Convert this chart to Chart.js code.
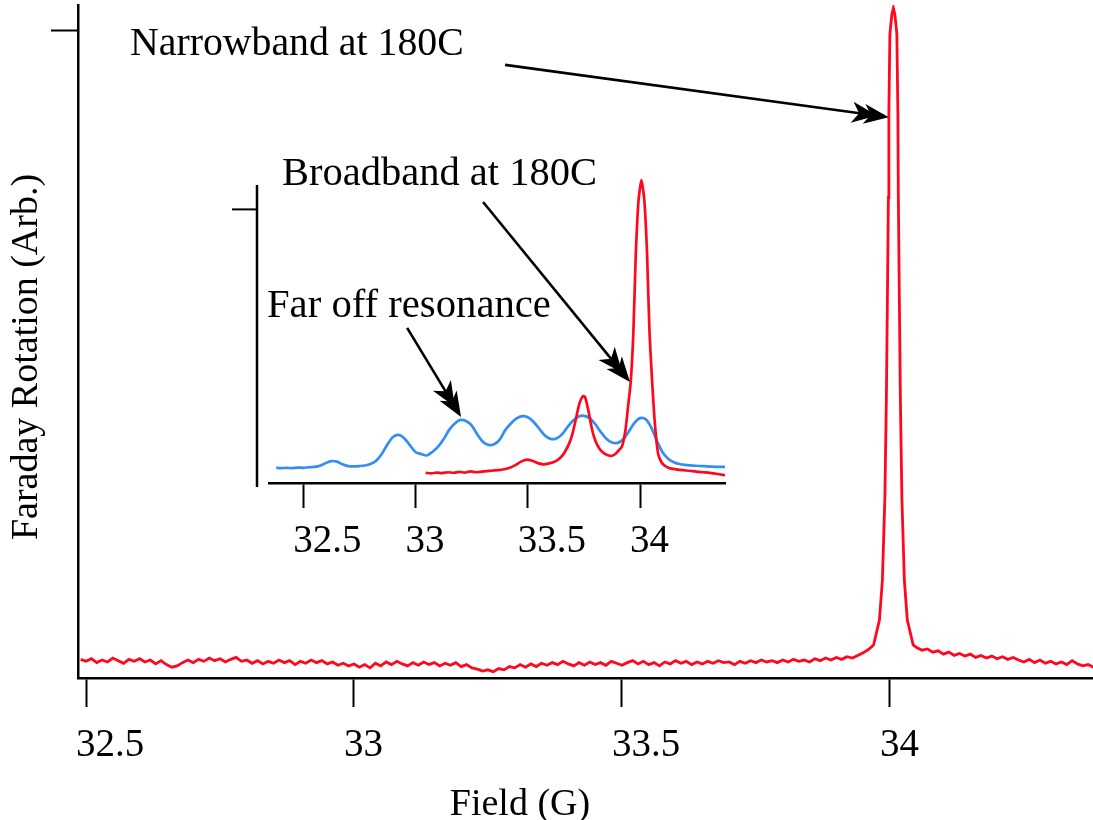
<!DOCTYPE html>
<html>
<head>
<meta charset="utf-8">
<script src="https://cdn.jsdelivr.net/npm/chart.js"></script>
<style>
  html, body { margin: 0; padding: 0; background: #fff; }
  #wrap { position: relative; width: 1093px; height: 820px; }
  #wrap canvas { position: absolute; left: 0; top: 0; }
</style>
</head>
<body>
<div id="wrap">
  <canvas id="main" width="1093" height="820"></canvas>
  <canvas id="inset" width="1093" height="820"></canvas>
</div>
<script>
// main trace: narrowband at 180C (field in G, rotation in % of peak)
const mainField = [
  32.49,32.50,32.51,32.52,32.53,32.54,32.55,32.56,32.57,32.58,
  32.59,32.60,32.61,32.62,32.63,32.64,32.65,32.66,32.67,32.68,
  32.69,32.70,32.71,32.72,32.73,32.74,32.75,32.76,32.77,32.78,
  32.79,32.80,32.81,32.82,32.83,32.84,32.85,32.86,32.87,32.88,
  32.89,32.90,32.91,32.92,32.93,32.94,32.95,32.96,32.97,32.98,
  32.99,33.00,33.01,33.02,33.03,33.04,33.05,33.06,33.07,33.08,
  33.09,33.10,33.11,33.12,33.13,33.14,33.15,33.16,33.17,33.18,
  33.19,33.20,33.21,33.22,33.23,33.24,33.25,33.26,33.27,33.28,
  33.29,33.30,33.31,33.32,33.33,33.34,33.35,33.36,33.37,33.38,
  33.39,33.40,33.41,33.42,33.43,33.44,33.45,33.46,33.47,33.48,
  33.49,33.50,33.51,33.52,33.53,33.54,33.55,33.56,33.57,33.58,
  33.59,33.60,33.61,33.62,33.63,33.64,33.65,33.66,33.67,33.68,
  33.69,33.70,33.71,33.72,33.73,33.74,33.75,33.76,33.77,33.78,
  33.79,33.80,33.81,33.82,33.83,33.84,33.85,33.86,33.87,33.88,
  33.89,33.90,33.91,33.92,33.93,33.94,33.95,33.96,
  33.9695,33.9805,33.986,33.9906,33.9934,33.9953,33.9972,33.9981,34.0000,34.0037,34.0065,
  34.0093,34.0130,34.0149,34.0158,34.0177,34.0196,34.0224,34.0270,34.0325,34.0435,
  34.05,34.06,34.07,34.08,34.09,34.10,34.11,34.12,34.13,34.14,
  34.15,34.16,34.17,34.18,34.19,34.20,34.21,34.22,34.23,34.24,
  34.25,34.26,34.27,34.28,34.29,34.30,34.31,34.32,34.33,34.34,
  34.35,34.36,34.37,34.38
];
const mainRotation = [
  0.4,0.1,0.5,-0.1,0.3,0.0,0.6,0.2,-0.2,0.4,
  0.1,0.5,0.0,0.3,-0.3,0.2,-0.4,-0.8,-0.6,-0.1,
  0.3,-0.1,0.4,0.1,0.6,0.2,0.5,0.0,0.4,0.7,
  0.1,0.3,-0.2,0.2,-0.3,0.1,-0.2,0.3,-0.1,0.2,
  -0.4,0.1,-0.2,0.3,-0.1,0.2,-0.3,0.0,-0.5,-0.2,
  -0.6,-0.3,-0.8,-0.4,-0.9,-0.2,-0.6,0.0,-0.4,0.1,
  -0.3,-0.6,-0.1,-0.5,0.0,-0.4,-0.1,-0.6,-0.2,-0.5,
  -0.1,-0.7,-0.4,-0.9,-1.1,-1.4,-1.2,-1.5,-1.0,-1.2,
  -0.7,-0.9,-0.4,-0.8,-0.3,-0.7,-0.2,-0.5,-0.1,-0.4,
  0.1,-0.3,-0.6,-0.1,-0.5,0.0,-0.4,-0.1,-0.5,0.1,
  -0.2,-0.5,-0.1,0.2,-0.3,0.1,-0.4,-0.1,-0.6,0.0,
  -0.3,0.2,-0.2,0.1,-0.4,0.0,-0.3,0.1,-0.2,0.2,
  -0.1,0.0,-0.4,0.1,-0.2,0.2,-0.1,0.3,0.0,0.2,
  -0.1,0.3,0.0,0.4,0.1,0.3,0.0,0.5,0.2,0.6,
  0.3,0.7,0.4,0.8,0.6,1.0,1.4,1.9,
  2.6,6.4,12.5,25,40,55,71,84,96,99,100,
  99,96,84,71,55,40,25,12.5,6.4,2.6,
  2.2,1.8,2.0,1.5,1.7,1.2,1.5,1.0,1.3,0.9,
  1.2,0.7,1.0,0.6,0.9,0.5,0.8,0.4,0.7,0.3,
  0.0,0.4,-0.1,0.3,-0.2,0.1,-0.3,0.0,-0.4,0.2,
  -0.3,-0.6,-0.4,-0.8
];

// inset: far off resonance (blue) and broadband at 180C (red)
const blueField = [
  32.38,32.40,32.425,32.45,32.475,32.50,32.525,32.55,32.575,32.60,
  32.625,32.65,32.675,32.70,32.725,32.75,32.775,32.80,32.825,32.85,
  32.875,32.90,32.925,32.95,32.975,33.00,33.025,33.05,33.075,33.10,
  33.125,33.15,33.175,33.20,33.225,33.25,33.275,33.30,33.325,33.35,
  33.375,33.40,33.425,33.45,33.475,33.50,33.525,33.55,33.575,33.60,
  33.625,33.65,33.675,33.70,33.725,33.75,33.775,33.80,33.825,33.85,
  33.875,33.90,33.925,33.95,33.975,34.00,34.025,34.05,34.075,34.10,
  34.125,34.15,34.175,34.20,34.25,34.30,34.35,34.378
];
const blueRotation = [
  0.021,0.020,0.021,0.020,0.022,0.021,0.023,0.024,0.028,0.037,
  0.044,0.042,0.033,0.027,0.026,0.027,0.029,0.034,0.045,0.068,
  0.100,0.126,0.133,0.122,0.098,0.075,0.068,0.063,0.075,0.092,
  0.118,0.150,0.172,0.184,0.180,0.165,0.135,0.110,0.099,0.101,
  0.117,0.150,0.172,0.189,0.197,0.193,0.178,0.155,0.132,0.120,
  0.120,0.133,0.158,0.180,0.195,0.198,0.190,0.170,0.143,0.120,
  0.107,0.106,0.118,0.145,0.174,0.190,0.186,0.158,0.112,0.074,
  0.052,0.040,0.034,0.031,0.028,0.026,0.024,0.024
];
const redField = [
  33.045,33.07,33.095,33.12,33.145,33.17,33.195,33.22,33.245,33.27,
  33.295,33.32,33.345,33.37,33.395,33.42,33.445,33.47,33.495,33.52,
  33.545,33.57,33.595,33.62,33.645,33.665,33.685,33.70,33.715,33.73,
  33.745,33.755,33.77,33.785,33.80,33.82,33.84,33.86,33.875,33.89,
  33.905,33.92,33.935,33.945,33.958,33.970,33.981,33.993,34.006,34.019,
  34.031,34.042,34.054,34.066,34.080,34.095,34.11,34.13,34.16,34.19,
  34.22,34.25,34.28,34.31,34.34,34.378
];
const redRotation = [
  0.004,0.002,0.005,0.003,0.006,0.004,0.007,0.005,0.009,0.006,
  0.008,0.010,0.012,0.013,0.016,0.021,0.030,0.042,0.049,0.045,
  0.037,0.033,0.036,0.042,0.055,0.075,0.105,0.140,0.190,0.240,
  0.265,0.262,0.215,0.155,0.115,0.085,0.070,0.063,0.062,0.068,
  0.080,0.095,0.150,0.220,0.310,0.480,0.750,0.930,1.000,0.930,
  0.750,0.480,0.310,0.170,0.070,0.040,0.028,0.020,0.016,0.013,
  0.011,0.008,0.006,0.004,0.001,-0.004
];

const mainXTicks = [32.5, 33, 33.5, 34];
const mainYTicks = [96.6];
const insetXTicks = [32.5, 33, 33.5, 34];
const insetYTicks = [0.90];

const xTitle = 'Field (G)';
const yTitle = 'Faraday Rotation (Arb.)';
// text + arrow notes, in data units of their chart
const mainNotes = [
  { text: 'Narrowband at 180C', size: 39.8, at: [32.582, 92.8], tail: [33.282, 91.3], tip: [33.998, 83.3] }
];
const insetNotes = [
  { text: 'Broadband at 180C', size: 40.5, at: [32.406, 0.983], tail: [33.301, 0.925], tip: [33.955, 0.313] },
  { text: 'Far off resonance', size: 40.7, at: [32.339, 0.534], tail: [32.963, 0.497], tip: [33.203, 0.194] }
];

const FONT = '"Liberation Serif", "Times New Roman", serif';
const RED = 'rgb(255, 8, 30)';
const BLUE = 'rgb(52, 142, 240)';

function pts(xs, ys) {
  return xs.map(function (v, i) { return { x: v, y: ys[i] }; });
}

function drawArrow(ctx, x1, y1, x2, y2) {
  let ang = Math.atan2(y2 - y1, x2 - x1);
  ctx.save();
  ctx.strokeStyle = '#000';
  ctx.fillStyle = '#000';
  ctx.lineWidth = 2.6;
  ctx.beginPath();
  ctx.moveTo(x1, y1);
  ctx.lineTo(x2 - Math.cos(ang) * 22, y2 - Math.sin(ang) * 22);
  ctx.stroke();
  ctx.translate(x2, y2);
  ctx.rotate(ang);
  // double barbed head
  ctx.beginPath();
  ctx.moveTo(0, 0); ctx.lineTo(-25, -10); ctx.lineTo(-18, 0); ctx.lineTo(-25, 10); ctx.closePath();
  ctx.fill();
  ctx.beginPath();
  ctx.moveTo(-12, 0); ctx.lineTo(-37, -10.5); ctx.lineTo(-30, 0); ctx.lineTo(-37, 10.5); ctx.closePath();
  ctx.fill();
  ctx.restore();
}

function drawNotes(chart, notes) {
  let ctx = chart.ctx, x = chart.scales.x, y = chart.scales.y;
  ctx.save();
  ctx.fillStyle = '#000';
  ctx.textAlign = 'left';
  ctx.textBaseline = 'alphabetic';
  notes.forEach(function (n) {
    ctx.font = n.size + 'px ' + FONT;
    ctx.fillText(n.text, x.getPixelForValue(n.at[0]), y.getPixelForValue(n.at[1]));
    drawArrow(ctx,
      x.getPixelForValue(n.tail[0]), y.getPixelForValue(n.tail[1]),
      x.getPixelForValue(n.tip[0]), y.getPixelForValue(n.tip[1]));
  });
  ctx.restore();
}

const mainDecor = {
  id: 'mainDecor',
  afterDraw: function (chart) {
    let ctx = chart.ctx;
    ctx.save();
    ctx.font = '38px ' + FONT;
    ctx.fillStyle = '#000';
    ctx.textAlign = 'center';
    ctx.textBaseline = 'alphabetic';
    ctx.fillText(xTitle, 520, 815);
    ctx.translate(37, 357);
    ctx.rotate(-Math.PI / 2);
    ctx.fillText(yTitle, 0, 0);
    ctx.restore();
    drawNotes(chart, mainNotes);
  }
};

const insetDecor = {
  id: 'insetDecor',
  afterDraw: function (chart) {
    let ctx = chart.ctx, area = chart.chartArea, y = chart.scales.y;
    let ax = area.left - 12;
    ctx.save();
    ctx.strokeStyle = '#000';
    ctx.lineWidth = 2.5;
    ctx.beginPath();
    ctx.moveTo(ax, area.top);
    ctx.lineTo(ax, area.bottom + 4);
    ctx.stroke();
    ctx.lineWidth = 2;
    insetYTicks.forEach(function (t) {
      let py = y.getPixelForValue(t);
      ctx.beginPath();
      ctx.moveTo(ax - 25, py);
      ctx.lineTo(ax, py);
      ctx.stroke();
    });
    ctx.restore();
    drawNotes(chart, insetNotes);
  }
};

function xAxis(min, max, tickVals, height, tickLen, pad) {
  return {
    type: 'linear', min: min, max: max,
    afterBuildTicks: function (s) { s.ticks = tickVals.map(function (v) { return { value: v }; }); },
    afterFit: function (s) { s.height = height; },
    border: { display: true, color: '#000', width: 2.5 },
    grid: { drawOnChartArea: false, drawTicks: true, tickLength: tickLen, tickWidth: 2, tickColor: '#000' },
    ticks: {
      color: '#000', font: { family: FONT, size: 39 }, padding: pad,
      align: 'start', labelOffset: -10, maxRotation: 0, autoSkip: false,
      callback: function (v) { return String(v); }
    }
  };
}

new Chart(document.getElementById('main').getContext('2d'), {
  type: 'line',
  data: {
    datasets: [{
      data: pts(mainField, mainRotation),
      borderColor: RED, borderWidth: 2.8, pointRadius: 0, tension: 0
    }]
  },
  options: {
    responsive: false, animation: false, events: [],
    layout: { padding: { top: 5, left: 0, right: 0, bottom: 0 } },
    plugins: { legend: { display: false }, tooltip: { enabled: false } },
    scales: {
      x: xAxis(32.485, 34.379, mainXTicks, 142, 29, 15),
      y: {
        type: 'linear', min: -2.45, max: 100.46,
        afterBuildTicks: function (s) { s.ticks = mainYTicks.map(function (v) { return { value: v }; }); },
        afterFit: function (s) { s.width = 78; },
        border: { display: true, color: '#000', width: 2.5 },
        grid: { drawOnChartArea: false, drawTicks: true, tickLength: 27, tickWidth: 2, tickColor: '#000' },
        ticks: { display: false }
      }
    }
  },
  plugins: [mainDecor]
});

new Chart(document.getElementById('inset').getContext('2d'), {
  type: 'line',
  data: {
    datasets: [
      { data: pts(redField, redRotation), borderColor: RED, borderWidth: 2.7, pointRadius: 0, tension: 0.2, clip: false },
      { data: pts(blueField, blueRotation), borderColor: BLUE, borderWidth: 2.7, pointRadius: 0, tension: 0.3 }
    ]
  },
  options: {
    responsive: false, animation: false, events: [],
    layout: { padding: { top: 185, left: 0, right: 368, bottom: 0 } },
    plugins: { legend: { display: false }, tooltip: { enabled: false } },
    scales: {
      x: xAxis(32.348, 34.378, insetXTicks, 337, 25, 10),
      y: {
        type: 'linear', min: -0.0306, max: 0.983,
        afterFit: function (s) { s.width = 269; },
        border: { display: false },
        grid: { display: false },
        ticks: { display: false }
      }
    }
  },
  plugins: [insetDecor]
});
</script>
</body>
</html>
